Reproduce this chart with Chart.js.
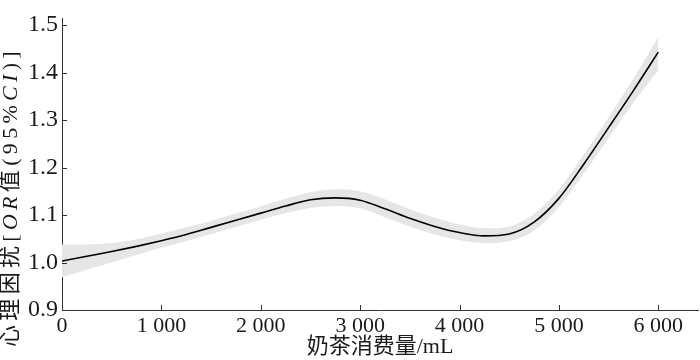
<!DOCTYPE html>
<html><head><meta charset="utf-8">
<script src="https://cdn.jsdelivr.net/npm/chart.js@4.4.0/dist/chart.umd.min.js"></script>
<style>html,body{margin:0;padding:0;background:#fff}</style>
</head><body>
<canvas id="c" width="700" height="360"></canvas>
<script>
const milkTeaVolume = [0,250,500,750,1000,1250,1500,1750,2000,2250,2500,2750,3000,3250,3500,3750,4000,4250,4500,4750,5000,5250,5500,5750,6000];
const orValues = [1.003,1.013,1.023,1.034,1.046,1.059,1.074,1.089,1.104,1.119,1.132,1.136,1.131,1.113,1.093,1.076,1.063,1.056,1.060,1.085,1.135,1.207,1.284,1.362,1.443];
const ciLower  = [0.969,0.985,1.000,1.016,1.031,1.045,1.060,1.075,1.090,1.104,1.115,1.119,1.114,1.095,1.076,1.059,1.047,1.041,1.045,1.067,1.117,1.187,1.262,1.337,1.405];
const ciUpper  = [1.038,1.038,1.041,1.049,1.061,1.074,1.088,1.103,1.118,1.134,1.148,1.154,1.150,1.133,1.112,1.094,1.080,1.072,1.076,1.102,1.154,1.227,1.306,1.387,1.475];
const xTickValues = [0,1000,2000,3000,4000,5000,6000];
const xTickLabels = ['0','1 000','2 000','3 000','4 000','5 000','6 000'];
const yTickValues = [0.9,1.0,1.1,1.2,1.3,1.4,1.5];
const yTickLabels = ['0.9','1.0','1.1','1.2','1.3','1.4','1.5'];
const xAxisTitle = '奶茶消费量/mL';
const yAxisTitleParts = [['心理困扰[', false], ['OR', true], ['值(95%', false], ['CI', true], [')]', false]];

const FAM = '"Liberation Serif", "Noto Sans CJK SC", serif';
const TXT = '#1a1a1a';
const AX = '#333';

function pts(arr){ return milkTeaVolume.map((x,i)=>({x:x, y:arr[i]})); }

const innerTicks = {
  id:'innerTicks',
  afterDraw(chart){
    const ctx = chart.ctx, xs = chart.scales.x, ys = chart.scales.y, a = chart.chartArea;
    ctx.save();
    ctx.strokeStyle = AX; ctx.lineWidth = 1;
    ctx.beginPath();
    xTickValues.forEach(v=>{ if(v===0) return; const p = Math.round(xs.getPixelForValue(v))+0.5; ctx.moveTo(p, a.bottom); ctx.lineTo(p, a.bottom-5); });
    yTickValues.forEach((v,i)=>{ if(i===0) return; const p = Math.round(ys.getPixelForValue(v))+0.5; ctx.moveTo(a.left, p); ctx.lineTo(a.left+5, p); });
    ctx.stroke();
    ctx.restore();
  }
};

const yTitle = {
  id:'yTitle',
  afterDraw(chart){
    const ctx = chart.ctx;
    ctx.save();
    ctx.translate(11, 197);
    ctx.rotate(-Math.PI/2);
    ctx.fillStyle = TXT;
    ctx.textBaseline = 'middle';
    ctx.textAlign = 'left';
    const size = 22;
    let widths = [], nChars = 0, raw = 0;
    ctx.letterSpacing = '0px';
    yAxisTitleParts.forEach(([t,it])=>{
      ctx.font = (it?'italic ':'') + size + 'px ' + FAM;
      const w = ctx.measureText(t).width; widths.push(w); raw += w; nChars += t.length;
    });
    const target = 300;
    const sp = Math.max(0, (target - raw) / nChars);
    const total = raw + sp * nChars;
    let x = -total/2;
    yAxisTitleParts.forEach(([t,it],i)=>{
      ctx.font = (it?'italic ':'') + size + 'px ' + FAM;
      ctx.letterSpacing = sp.toFixed(2) + 'px';
      ctx.fillText(t, x, 0);
      x += widths[i] + sp * t.length;
    });
    ctx.restore();
  }
};

new Chart(document.getElementById('c'), {
  type:'line',
  data:{
    datasets:[
      {label:'OR', data:pts(orValues), borderColor:'#000', borderWidth:1.6, pointRadius:0, fill:false, cubicInterpolationMode:'monotone'},
      {label:'lower', data:pts(ciLower), borderWidth:0, borderColor:'rgba(0,0,0,0)', pointRadius:0, fill:false, cubicInterpolationMode:'monotone'},
      {label:'upper', data:pts(ciUpper), borderWidth:0, borderColor:'rgba(0,0,0,0)', backgroundColor:'#e6e6e6', pointRadius:0, fill:'-1', cubicInterpolationMode:'monotone'}
    ]
  },
  options:{
    responsive:false, animation:false, devicePixelRatio:1,
    layout:{padding:{left:0, right:2, top:0, bottom:0}},
    plugins:{legend:{display:false}, tooltip:{enabled:false}},
    scales:{
      x:{type:'linear', min:0, max:6400,
        afterBuildTicks(s){ s.ticks = xTickValues.map(v=>({value:v})); },
        afterFit(s){ s.height = 50; },
        grid:{display:false, drawTicks:false},
        border:{display:true, color:AX, width:1},
        ticks:{autoSkip:false, maxRotation:0, minRotation:0, padding:3, color:TXT,
          font:{family:FAM, size:22},
          callback(v){ const i = xTickValues.findIndex(t=>Math.abs(t-Number(v))<1e-6); return i>=0 ? xTickLabels[i] : String(v); }},
        title:{display:true, text:xAxisTitle, color:TXT, font:{family:FAM, size:22}, padding:0}
      },
      y:{type:'linear', min:0.9, max:1.514,
        afterBuildTicks(s){ s.ticks = yTickValues.map(v=>({value:v})); },
        afterFit(s){ s.width = 62; },
        grid:{display:false, drawTicks:false},
        border:{display:true, color:AX, width:1},
        ticks:{autoSkip:false, padding:4, color:TXT,
          font:{family:FAM, size:24},
          callback(v){ const i = yTickValues.findIndex(t=>Math.abs(t-Number(v))<1e-6); return i>=0 ? yTickLabels[i] : String(v); }}
      }
    }
  },
  plugins:[innerTicks, yTitle]
});
</script>
</body></html>
